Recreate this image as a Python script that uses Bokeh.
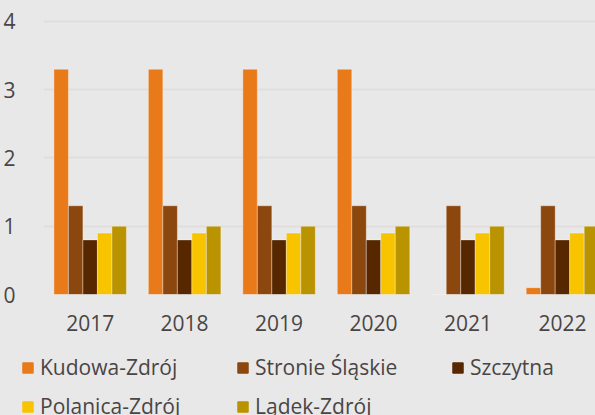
from bokeh.plotting import figure
from bokeh.layouts import column
from bokeh.models import ColumnDataSource, FixedTicker, Legend, LegendItem, Range1d
from bokeh.transform import dodge
from bokeh.embed import file_html
from bokeh.resources import INLINE

years = ["2017", "2018", "2019", "2020", "2021", "2022"]
series = ["Kudowa-Zdrój", "Stronie Śląskie", "Szczytna", "Polanica-Zdrój", "Lądek-Zdrój"]
kudowa = [3.3, 3.3, 3.3, 3.3, 0.0, 0.1]
stronie = [1.3, 1.3, 1.3, 1.3, 1.3, 1.3]
szczytna = [0.8, 0.8, 0.8, 0.8, 0.8, 0.8]
polanica = [0.9, 0.9, 0.9, 0.9, 0.9, 0.9]
ladek = [1.0, 1.0, 1.0, 1.0, 1.0, 1.0]
y_ticks = [0, 1, 2, 3, 4]
colors = ["#E87A1A", "#8B470E", "#572800", "#F8C400", "#BA9300"]

BG = "#e8e8e8"
TXT = "#4a4545"
FONT = "Open Sans"

values = [kudowa, stronie, szczytna, polanica, ladek]
data = {"x": list(range(len(years)))}
keys = ["s0", "s1", "s2", "s3", "s4"]
for k, v in zip(keys, values):
    data[k] = v
src = ColumnDataSource(data)

p = figure(width=595, height=340, output_backend="svg", toolbar_location=None,
           x_range=Range1d(-0.494, 5.35), y_range=Range1d(0, 4.117),
           min_border_left=35, min_border_right=0, min_border_top=13, min_border_bottom=46,
           background_fill_color=BG, border_fill_color=BG, outline_line_color=None,
           frame_align=False)

bar_w = 0.1535
for i, (k, c) in enumerate(zip(keys, colors)):
    p.vbar(x=dodge("x", (i - 2) * bar_w, range=p.x_range), top=k, width=bar_w,
           bottom=0, source=src, fill_color=c, line_color="white", line_alpha=0.35,
           line_width=1)

p.xaxis.ticker = FixedTicker(ticks=list(range(len(years))))
p.xaxis.major_label_overrides = {i: y for i, y in enumerate(years)}
p.yaxis.ticker = FixedTicker(ticks=y_ticks)
for ax in (p.xaxis, p.yaxis):
    ax.axis_line_color = None
    ax.major_tick_line_color = None
    ax.minor_tick_line_color = None
    ax.major_label_text_font = FONT
    ax.major_label_text_font_size = "21px"
    ax.major_label_text_color = TXT
p.xaxis.major_label_standoff = 14
p.yaxis.major_label_standoff = 22

p.xgrid.grid_line_color = None
p.ygrid.grid_line_color = "#e2dddd"
p.ygrid.grid_line_width = 2

# legend figure (its own copies of the series, kept outside the visible range)
pl = figure(width=595, height=75, output_backend="svg", toolbar_location=None,
            x_range=Range1d(100, 101), y_range=Range1d(100, 101),
            x_axis_location=None, y_axis_location=None,
            min_border_left=0, min_border_right=0, min_border_top=0, min_border_bottom=0,
            background_fill_color=BG, border_fill_color=BG, outline_line_color=None,
            frame_align=False)
pl.grid.grid_line_color = None
items = []
for k, name, c in zip(keys, series, colors):
    r = pl.vbar(x="x", top=k, width=bar_w, source=src, fill_color=c, line_color=c)
    items.append(LegendItem(label=name, renderers=[r]))

legend = Legend(items=items, ncols=3, orientation="horizontal", location=(21, -5.5),
                glyph_width=13, glyph_height=13, label_standoff=6, label_width=186,
                label_height=29, spacing=10, padding=0, margin=0,
                border_line_alpha=0, background_fill_alpha=0,
                label_text_font=FONT, label_text_font_size="21px", label_text_color=TXT)
pl.add_layout(legend, "center")

layout = column(p, pl, spacing=0)
html = file_html(layout, INLINE)
html = html.replace("<head>", "<head><style>html, body { background: #e8e8e8; }</style>", 1)
open("out.html", "w").write(html)
